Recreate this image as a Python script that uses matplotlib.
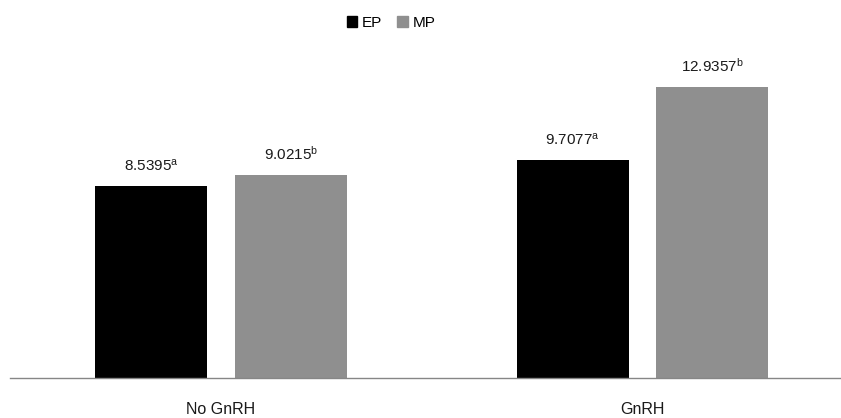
import numpy as np
import matplotlib.pyplot as plt
from matplotlib.patches import Patch

groups = ["No GnRH", "GnRH"]
ep_vals = [8.5395, 9.7077]
mp_vals = [9.0215, 12.9357]
ep_sup = ["a", "a"]
mp_sup = ["b", "b"]

plt.rcParams['font.family'] = ['Liberation Sans', 'DejaVu Sans']
plt.rcParams['mathtext.default'] = 'regular'

fig = plt.figure(figsize=(8.41, 4.18), dpi=100)
ax = fig.add_axes([10 / 841, 1 - 378 / 418, 831 / 841, 0.7529])

x = np.arange(len(groups))
w = 0.2657
off = 0.166
ax.bar(x - off, ep_vals, w, color="black", label="EP")
ax.bar(x + off, mp_vals, w, color="#8f8f8f", label="MP")

for xi, v, s in zip(x - off, ep_vals, ep_sup):
    ax.text(xi, v + 0.55, f"{v:.4f}$^{{{s}}}$", ha="center", va="bottom", fontsize=11, color="#1a1a1a")
for xi, v, s in zip(x + off, mp_vals, mp_sup):
    ax.text(xi, v + 0.55, f"{v:.4f}$^{{{s}}}$", ha="center", va="bottom", fontsize=11, color="#1a1a1a")

ax.set_xlim(-0.5006, 1.471)
ax.set_ylim(0, 14)
ax.set_xticks(x)
ax.set_xticklabels(groups, fontsize=11.5, color="#1a1a1a")
ax.tick_params(axis="x", length=0, pad=17)
ax.set_yticks([])
for s in ["top", "right", "left"]:
    ax.spines[s].set_visible(False)
ax.spines["bottom"].set_color("#868686")
ax.spines["bottom"].set_linewidth(1.0)

handles = [Patch(color="black", label="EP"), Patch(color="#8f8f8f", label="MP")]
fig.legend(handles=handles, loc="upper center", bbox_to_anchor=(0.465, 0.995), ncol=2, frameon=False,
           handlelength=0.7, handleheight=0.7, handletextpad=0.3, columnspacing=1.0, fontsize=11)

fig.savefig("out.png", dpi=100)
